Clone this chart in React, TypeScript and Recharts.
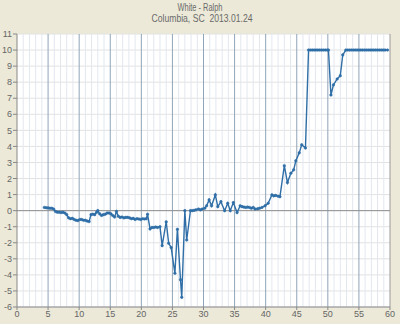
import React from "react";
import { LineChart, Line, XAxis, YAxis, CartesianGrid, ReferenceLine } from "recharts";

const titleLine1 = "White - Ralph";
const titleLine2 = "Columbia, SC\u00a0 2013.01.24";

const xTicks = [0, 5, 10, 15, 20, 25, 30, 35, 40, 45, 50, 55, 60];
const yTicks = [-6, -5, -4, -3, -2, -1, 0, 1, 2, 3, 4, 5, 6, 7, 8, 9, 10, 11];
const xMinor = [1, 2, 3, 4, 6, 7, 8, 9, 11, 12, 13, 14, 16, 17, 18, 19, 21, 22, 23, 24, 26, 27, 28, 29, 31, 32, 33, 34, 36, 37, 38, 39, 41, 42, 43, 44, 46, 47, 48, 49, 51, 52, 53, 54, 56, 57, 58, 59];
const xMajor = [5, 10, 15, 20, 25, 30, 35, 40, 45, 50, 55];

const xVals = [
  4.4, 4.7, 5.0, 5.3, 5.6, 5.9, 6.2, 6.5, 6.8, 7.1, 7.4, 7.7, 8.0, 8.3, 8.6, 8.9, 9.2, 9.5, 9.8, 10.1,
  10.4, 10.7, 11.0, 11.3, 11.6, 11.9, 12.2, 12.5, 12.8, 13.0, 13.3, 13.6, 13.9, 14.2, 14.5, 14.8, 15.1, 15.4, 15.7, 16.0,
  16.3, 16.6, 16.9, 17.2, 17.5, 17.8, 18.1, 18.4, 18.7, 19.0, 19.3, 19.6, 19.9, 20.2, 20.5, 20.8, 21.0, 21.4, 21.7, 22.0,
  22.3, 22.6, 23.0, 23.35, 24.0, 24.4, 24.8, 25.4, 25.8, 26.3, 26.5, 27.0, 27.3, 27.9, 28.2, 28.5, 28.8, 29.2, 29.5, 29.8,
  30.2, 30.5, 30.9, 31.3, 31.9, 32.3, 32.8, 33.4, 33.9, 34.3, 34.8, 35.4, 35.9, 36.2, 36.5, 36.8, 37.1, 37.4, 37.7, 38.0,
  38.3, 38.7, 39.0, 39.4, 39.9, 40.4, 41.0, 41.3, 41.6, 42.0, 42.3, 43.0, 43.5, 44.05, 44.5, 44.85, 45.4, 45.8, 46.4, 46.9,
  47.2, 47.5, 47.8, 48.1, 48.4, 48.7, 49.0, 49.3, 49.6, 49.9, 50.1, 50.5, 50.9, 51.5, 52.0, 52.4, 52.9, 53.2, 53.5, 53.8,
  54.1, 54.4, 54.7, 55.0, 55.3, 55.6, 55.9, 56.2, 56.5, 56.8, 57.1, 57.4, 57.7, 58.0, 58.3, 58.6, 58.9, 59.2, 59.6,
];

const yVals = [
  0.2, 0.18, 0.17, 0.15, 0.15, 0.1, -0.05, -0.1, -0.1, -0.12, -0.1, -0.15, -0.25, -0.45, -0.5, -0.48, -0.55, -0.6, -0.62, -0.55,
  -0.55, -0.6, -0.6, -0.65, -0.68, -0.25, -0.22, -0.25, -0.1, 0.0, -0.2, -0.3, -0.25, -0.22, -0.15, -0.15, -0.2, -0.3, -0.4, -0.05,
  -0.35, -0.42, -0.4, -0.45, -0.42, -0.42, -0.45, -0.5, -0.48, -0.55, -0.5, -0.52, -0.55, -0.5, -0.52, -0.5, -0.22, -1.14, -1.05, -1.05,
  -1.02, -1.05, -1.0, -2.18, -0.7, -2.03, -2.3, -3.9, -1.16, -4.3, -5.4, 0.0, -1.83, 0.0, 0.0, 0.02, 0.05, 0.1, 0.05, 0.1,
  0.15, 0.3, 0.67, 0.3, 0.98, 0.25, 0.56, 0.0, 0.46, 0.0, 0.5, -0.12, 0.3, 0.25, 0.22, 0.2, 0.22, 0.2, 0.15, 0.2,
  0.1, 0.12, 0.15, 0.2, 0.3, 0.46, 0.98, 0.92, 0.95, 0.9, 0.87, 2.8, 1.75, 2.33, 2.54, 3.1, 3.6, 4.1, 3.9, 10,
  10, 10, 10, 10, 10, 10, 10, 10, 10, 10, 10, 7.2, 7.83, 8.2, 8.4, 9.7, 10, 10, 10, 10,
  10, 10, 10, 10, 10, 10, 10, 10, 10, 10, 10, 10, 10, 10, 10, 10, 10, 10, 10,
];

const data = xVals.map((x, i) => ({ x, y: yVals[i] }));

const FONT = "'Liberation Sans', Arial, sans-serif";
const LINE_COLOR = "#2f6ea7";

export default function App() {
  return (
    <div style={{ position: "relative", width: 400, height: 324, background: "#ECE9D8", fontFamily: FONT }}>
      <style>{"body{margin:0}"}</style>
      <svg width={400} height={30} style={{ position: "absolute", left: 0, top: 0 }}>
        <text x={200} y={11} textAnchor="middle" fontSize={11} fill="#6a6a6a" textLength={45} lengthAdjust="spacingAndGlyphs">
          {titleLine1}
        </text>
        <text x={202} y={22} textAnchor="middle" fontSize={11} fill="#6a6a6a" textLength={101} lengthAdjust="spacingAndGlyphs">
          {titleLine2}
        </text>
      </svg>
      <div style={{ position: "absolute", left: 0, top: 0 }}>
        <LineChart width={400} height={324} data={data} margin={{ top: 34, right: 0, bottom: 0, left: 0 }}>
          <CartesianGrid fill="#ffffff" stroke="#e2e2e2" vertical={false} />
          {xMinor.map((v) => (
            <ReferenceLine key={"mi" + v} x={v} stroke="#e2e7ee" strokeWidth={1} />
          ))}
          {xMajor.map((v) => (
            <ReferenceLine key={"ma" + v} x={v} stroke="#8fa5b9" strokeWidth={1} />
          ))}
          <ReferenceLine y={0} stroke="#8e8e8e" strokeWidth={1} />
          <XAxis
            dataKey="x"
            type="number"
            domain={[0, 60]}
            ticks={xTicks}
            interval={0}
            height={17}
            tickSize={3}
            tickMargin={1}
            stroke="#888"
            tick={{ fontSize: 9, fill: "#666", fontFamily: FONT }}
          />
          <YAxis
            type="number"
            domain={[-6, 11]}
            ticks={yTicks}
            interval={0}
            width={17}
            tickSize={4}
            tickMargin={1}
            stroke="#888"
            tick={{ fontSize: 9, fill: "#666", fontFamily: FONT }}
          />
          <YAxis
            yAxisId="r"
            orientation="right"
            type="number"
            domain={[-6, 11]}
            ticks={yTicks}
            interval={0}
            width={10}
            tickSize={3}
            stroke="#999"
            tick={() => <g />}
          />
          <Line
            type="linear"
            dataKey="y"
            stroke={LINE_COLOR}
            strokeWidth={1.4}
            dot={{ r: 1.3, fill: LINE_COLOR, stroke: LINE_COLOR, strokeWidth: 0.5 }}
            isAnimationActive={false}
          />
        </LineChart>
      </div>
    </div>
  );
}
